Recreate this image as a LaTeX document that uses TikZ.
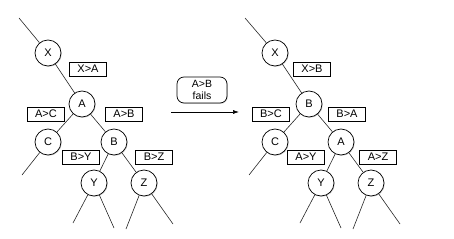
\documentclass[tikz,border=0pt]{standalone}
\usepackage{fontspec}
\setmainfont{Liberation Sans}
\usetikzlibrary{shadows,arrows.meta}
\begin{document}
\begin{tikzpicture}[x=1pt,y=-1pt,
  tn/.style={circle,draw=black,line width=0.7pt,fill=white,minimum size=26pt,inner sep=0pt,font=\fontsize{11}{12}\selectfont,
     drop shadow={opacity=0.35,shadow xshift=0.8pt,shadow yshift=-0.8pt}},
  lb/.style={rectangle,draw=black,line width=0.7pt,fill=white,minimum width=37pt,minimum height=14pt,inner sep=0pt,font=\fontsize{11}{12}\selectfont,
     drop shadow={opacity=0.35,shadow xshift=0.8pt,shadow yshift=-0.8pt}},
  ed/.style={draw=black!85,line width=0.6pt}]
\useasboundingbox (0,0) rectangle (454,238);
% left tree
\coordinate (lt) at (19,18);
\coordinate (lc) at (22,175);
\coordinate (ly1) at (73,223);
\coordinate (ly2) at (114,228);
\coordinate (lz1) at (126,229);
\coordinate (lz2) at (173,224);
\node[tn] (X1) at (48,53) {X};
\node[tn] (A1) at (82,104) {A};
\node[tn] (C1) at (48,142) {C};
\node[tn] (B1) at (114,142) {B};
\node[tn] (Y1) at (94,183) {Y};
\node[tn] (Z1) at (144,183) {Z};
\draw[ed] (lt) -- (X1) (X1) -- (A1) (A1) -- (C1) (A1) -- (B1) (C1) -- (lc)
  (B1) -- (Y1) (B1) -- (Z1) (Y1) -- (ly1) (Y1) -- (ly2) (Z1) -- (lz1) (Z1) -- (lz2);
\node[lb] (l1) at (88,69) {X>A};
\node[lb] (l2) at (46,114) {A>C};
\node[lb] (l3) at (124,114) {A>B};
\node[lb] (l4) at (81,157) {B>Y};
\node[lb] (l5) at (154,157) {B>Z};
% middle
\node[draw=black,line width=0.7pt,fill=white,rounded corners=7pt,minimum width=50pt,minimum height=26pt,inner sep=1pt,
  align=center,font=\fontsize{10.5}{11.5}\selectfont,drop shadow={opacity=0.35,shadow xshift=0.8pt,shadow yshift=-0.8pt}] (f) at (202,90) {A>B\\fails};
\coordinate (as) at (171,112);
\coordinate (ae) at (239,112);
\draw[line width=0.6pt,-{Latex[length=6pt,width=4pt]}] (as) -- (ae);
% right tree
\coordinate (rt) at (245,18);
\coordinate (rc) at (249,175);
\coordinate (ry1) at (300,223);
\coordinate (ry2) at (341,228);
\coordinate (rz1) at (353,229);
\coordinate (rz2) at (400,224);
\node[tn] (X2) at (275,53) {X};
\node[tn] (B2) at (309,104) {B};
\node[tn] (C2) at (275,142) {C};
\node[tn] (A2) at (341,142) {A};
\node[tn] (Y2) at (321,183) {Y};
\node[tn] (Z2) at (371,183) {Z};
\draw[ed] (rt) -- (X2) (X2) -- (B2) (B2) -- (C2) (B2) -- (A2) (C2) -- (rc)
  (A2) -- (Y2) (A2) -- (Z2) (Y2) -- (ry1) (Y2) -- (ry2) (Z2) -- (rz1) (Z2) -- (rz2);
\node[lb] (r1) at (312,69) {X>B};
\node[lb] (r2) at (271,114) {B>C};
\node[lb] (r3) at (347,114) {B>A};
\node[lb] (r4) at (306,157) {A>Y};
\node[lb] (r5) at (378,157) {A>Z};
\end{tikzpicture}
\end{document}
